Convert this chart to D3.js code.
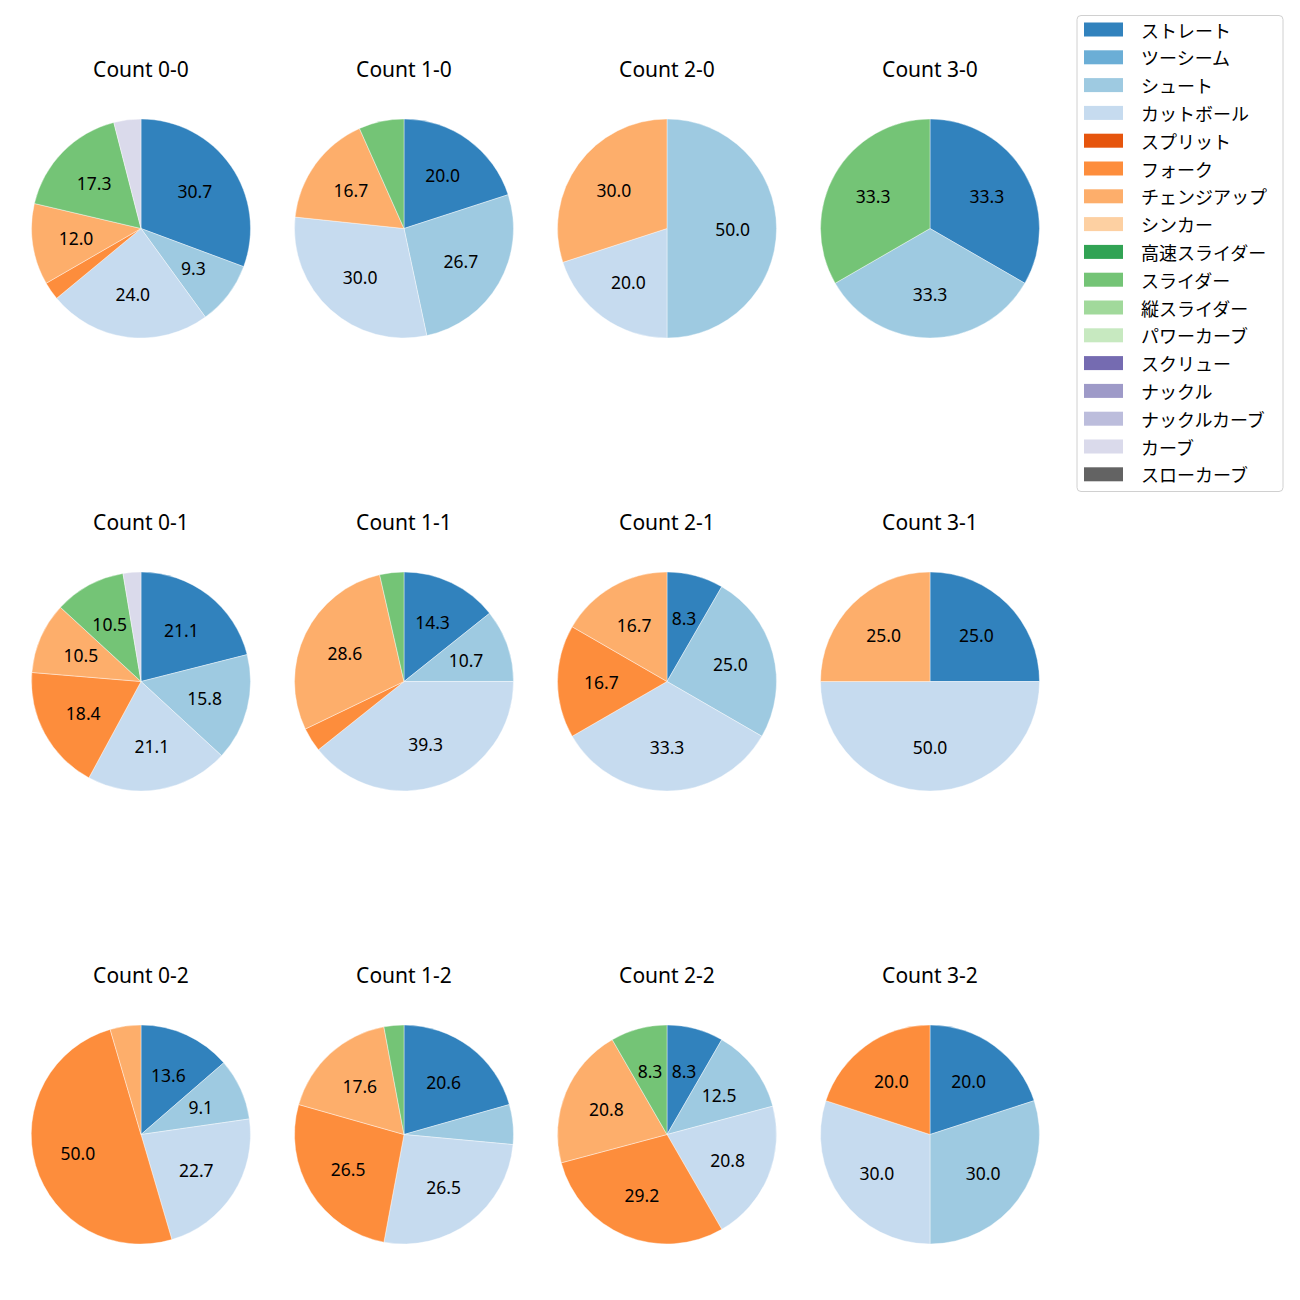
<!DOCTYPE html>
<html>
<head>
<meta charset="utf-8">
<script src="https://cdn.jsdelivr.net/npm/d3@7"></script>
<style>
html,body{margin:0;padding:0;background:#fff;}
svg{display:block;}
text{font-family:"Noto Sans","Noto Sans CJK JP",sans-serif;}
text.jp{font-family:"Noto Sans CJK JP","Noto Sans",sans-serif;}
</style>
</head>
<body>
<svg id="chart" width="1300" height="1300"></svg>
<script>
const pitchTypes = ["ストレート","ツーシーム","シュート","カットボール","スプリット","フォーク","チェンジアップ","シンカー","高速スライダー","スライダー","縦スライダー","パワーカーブ","スクリュー","ナックル","ナックルカーブ","カーブ","スローカーブ"];
const pitchColors = ["#3182bd","#6baed6","#9ecae1","#c6dbef","#e6550d","#fd8d3c","#fdae6b","#fdd0a2","#31a354","#74c476","#a1d99b","#c7e9c0","#756bb1","#9e9ac8","#bcbddc","#dadaeb","#636363"];

const countTitles = ["Count 0-0","Count 1-0","Count 2-0","Count 3-0",
                     "Count 0-1","Count 1-1","Count 2-1","Count 3-1",
                     "Count 0-2","Count 1-2","Count 2-2","Count 3-2"];

// pitch counts per count situation, in pitchTypes order
const count00 = [23,0,7,18,0,2,9,0,0,13,0,0,0,0,0,3,0];
const count10 = [6,0,8,9,0,0,5,0,0,2,0,0,0,0,0,0,0];
const count20 = [0,0,5,2,0,0,3,0,0,0,0,0,0,0,0,0,0];
const count30 = [1,0,1,0,0,0,0,0,0,1,0,0,0,0,0,0,0];
const count01 = [8,0,6,8,0,7,4,0,0,4,0,0,0,0,0,1,0];
const count11 = [4,0,3,11,0,1,8,0,0,1,0,0,0,0,0,0,0];
const count21 = [1,0,3,4,0,2,2,0,0,0,0,0,0,0,0,0,0];
const count31 = [1,0,0,2,0,0,1,0,0,0,0,0,0,0,0,0,0];
const count02 = [3,0,2,5,0,11,1,0,0,0,0,0,0,0,0,0,0];
const count12 = [7,0,2,9,0,9,6,0,0,1,0,0,0,0,0,0,0];
const count22 = [2,0,3,5,0,7,5,0,0,2,0,0,0,0,0,0,0];
const count32 = [2,0,3,3,0,2,0,0,0,0,0,0,0,0,0,0,0];
const allCounts = [count00,count10,count20,count30,count01,count11,count21,count31,count02,count12,count22,count32];

const svg = d3.select("#chart");
const color = d3.scaleOrdinal().domain(pitchTypes).range(pitchColors);

const col = d3.scaleLinear().domain([0,3]).range([141,930]);
const row = d3.scaleLinear().domain([0,2]).range([228.5,1134.5]);
const R = 109.5;

const pie = d3.pie().sort(null).value(d => d.v);
const arc = d3.arc().innerRadius(0).outerRadius(R);
const labelArc = d3.arc().innerRadius(R*0.6).outerRadius(R*0.6);

allCounts.forEach((vals, i) => {
  const cx = col(i % 4), cy = row(Math.floor(i / 4));
  const total = d3.sum(vals);
  const data = pitchTypes.map((t, k) => ({t, v: vals[k]})).filter(d => d.v > 0);
  const g = svg.append("g").attr("transform", `translate(${cx},${cy})`);
  const arcs = pie(data);
  g.selectAll("path").data(arcs).join("path")
    .attr("d", arc)
    .attr("fill", d => color(d.data.t))
    .attr("stroke", "#ffffff")
    .attr("stroke-width", 0.4);
  g.selectAll("text.lbl").data(arcs.filter(d => d.data.v / total * 100 >= 7.5)).join("text")
    .attr("class", "lbl")
    .attr("transform", d => `translate(${labelArc.centroid(d)})`)
    .attr("text-anchor", "middle")
    .attr("dominant-baseline", "central")
    .attr("font-size", 17.5)
    .attr("fill", "#000")
    .text(d => (d.data.v / total * 100).toFixed(1));
  svg.append("text")
    .attr("x", cx).attr("y", cy - R - 50)
    .attr("text-anchor", "middle")
    .attr("dominant-baseline", "central")
    .attr("font-size", 21)
    .attr("fill", "#000")
    .text(countTitles[i]);
});

// legend
const lg = svg.append("g");
lg.append("rect")
  .attr("x", 1077).attr("y", 15.5).attr("width", 206).attr("height", 476)
  .attr("rx", 4).attr("fill", "#fff").attr("stroke", "#d0d0d0").attr("stroke-width", 1);
const ly = d3.scaleLinear().domain([0, pitchTypes.length - 1]).range([29.5, 29.5 + 27.8 * 16]);
pitchTypes.forEach((t, k) => {
  lg.append("rect").attr("x", 1084).attr("y", ly(k) - 7).attr("width", 39).attr("height", 14)
    .attr("fill", color(t));
  lg.append("text").attr("class", "jp").attr("x", 1141).attr("y", ly(k))
    .attr("dominant-baseline", "central")
    .attr("font-size", 18).attr("fill", "#000").text(t);
});
</script>
</body>
</html>
